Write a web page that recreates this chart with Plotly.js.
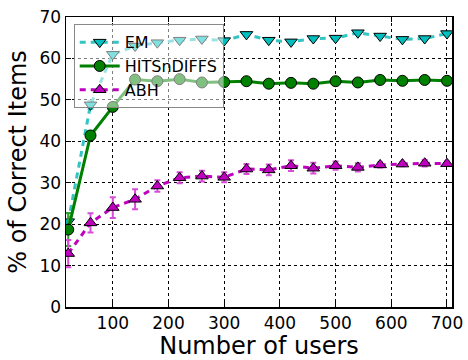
<!DOCTYPE html>
<html>
<head>
<meta charset="utf-8">
<script src="https://cdn.plot.ly/plotly-3.0.1.min.js"></script>
<style>html,body{margin:0;padding:0;background:#fff;}#chart{width:468px;height:360px;}</style>
</head>
<body>
<div id="chart"></div>
<script>
const users = [20, 60, 100, 140, 180, 220, 260, 300, 340, 380, 420, 460, 500, 540, 580, 620, 660, 700];
const emValues = [20.6, 48.8, 61.0, 63.0, 63.8, 64.4, 64.7, 64.3, 65.8, 64.4, 64.0, 64.8, 64.9, 66.2, 65.4, 64.6, 64.8, 66.0];
const emErr = [2.0, 1.0, 0.6, 0.5, 0.4, 0.4, 0.4, 0.4, 0.4, 0.4, 0.4, 0.4, 0.3, 0.3, 0.3, 0.3, 0.3, 0.3];
const hitsValues = [18.7, 41.4, 48.3, 54.9, 54.5, 55.0, 54.2, 54.3, 54.5, 53.9, 54.1, 53.9, 54.5, 54.2, 54.8, 54.6, 54.8, 54.6];
const hitsErr = [4.0, 1.0, 0.8, 0.5, 0.4, 0.4, 0.4, 0.4, 0.4, 0.4, 0.4, 0.4, 0.3, 0.3, 0.3, 0.3, 0.3, 0.3];
const abhValues = [12.9, 20.3, 24.0, 26.0, 29.2, 31.2, 31.6, 31.3, 33.3, 33.1, 34.1, 33.5, 34.1, 33.7, 34.3, 34.5, 34.7, 34.6];
const abhErr = [3.3, 2.3, 2.5, 2.4, 1.4, 1.3, 1.3, 1.2, 1.2, 1.3, 1.3, 1.3, 1.0, 1.0, 0.6, 0.5, 0.8, 0.5];
const seriesNames = ['EM', 'HITSnDIFFS', 'ABH'];

const traces = [
  {
    x: users, y: emValues, name: seriesNames[0], type: 'scatter', mode: 'lines+markers',
    line: {color: '#33c4c4', width: 3, dash: '6px,5px'},
    marker: {symbol: 'triangle-down', size: 11, color: '#00bfbf', line: {color: '#000', width: 1}},
    error_y: {type: 'data', array: emErr, color: '#66d2d2', thickness: 2, width: 3}
  },
  {
    x: users, y: hitsValues, name: seriesNames[1], type: 'scatter', mode: 'lines+markers',
    line: {color: '#008000', width: 3},
    marker: {symbol: 'circle', size: 11, color: '#008000', line: {color: '#000', width: 1}},
    error_y: {type: 'data', array: hitsErr, color: '#33a033', thickness: 2, width: 3}
  },
  {
    x: users, y: abhValues, name: seriesNames[2], type: 'scatter', mode: 'lines+markers',
    line: {color: '#bf00bf', width: 3, dash: '6px,5px'},
    marker: {symbol: 'triangle-up', size: 11, color: '#bf00bf', line: {color: '#000', width: 1}},
    error_y: {type: 'data', array: abhErr, color: '#d84dd8', thickness: 2, width: 3}
  }
];

const axisCommon = {
  showline: true, linecolor: '#000', linewidth: 1.5, mirror: 'ticks',
  ticks: 'inside', ticklen: 5, tickcolor: '#000',
  showgrid: true, gridcolor: '#000', griddash: 'dot', gridwidth: 1,
  zeroline: false,
  tickfont: {family: 'DejaVu Sans', size: 17, color: '#000'}
};

const layout = {
  width: 468, height: 360,
  margin: {l: 66, r: 16, t: 17, b: 53},
  paper_bgcolor: '#fff', plot_bgcolor: '#fff',
  xaxis: Object.assign({}, axisCommon, {
    range: [16, 709], tickvals: [100, 200, 300, 400, 500, 600, 700],
    title: {text: 'Number of users', font: {family: 'DejaVu Sans', size: 24, color: '#000'}, standoff: 2}
  }),
  yaxis: Object.assign({}, axisCommon, {
    range: [0, 70], tickvals: [0, 10, 20, 30, 40, 50, 60, 70],
    title: {text: '% of Correct Items', font: {family: 'DejaVu Sans', size: 24, color: '#000'}, standoff: 6}
  }),
  showlegend: true,
  legend: {
    x: 0.02, y: 0.975, xanchor: 'left', yanchor: 'top',
    bgcolor: 'rgba(255,255,255,0.5)', bordercolor: '#888', borderwidth: 1,
    font: {family: 'DejaVu Sans', size: 16, color: '#000'},
    tracegroupgap: 0, itemwidth: 40
  }
};

Plotly.newPlot('chart', traces, layout, {displayModeBar: false, staticPlot: true});
</script>
</body>
</html>
